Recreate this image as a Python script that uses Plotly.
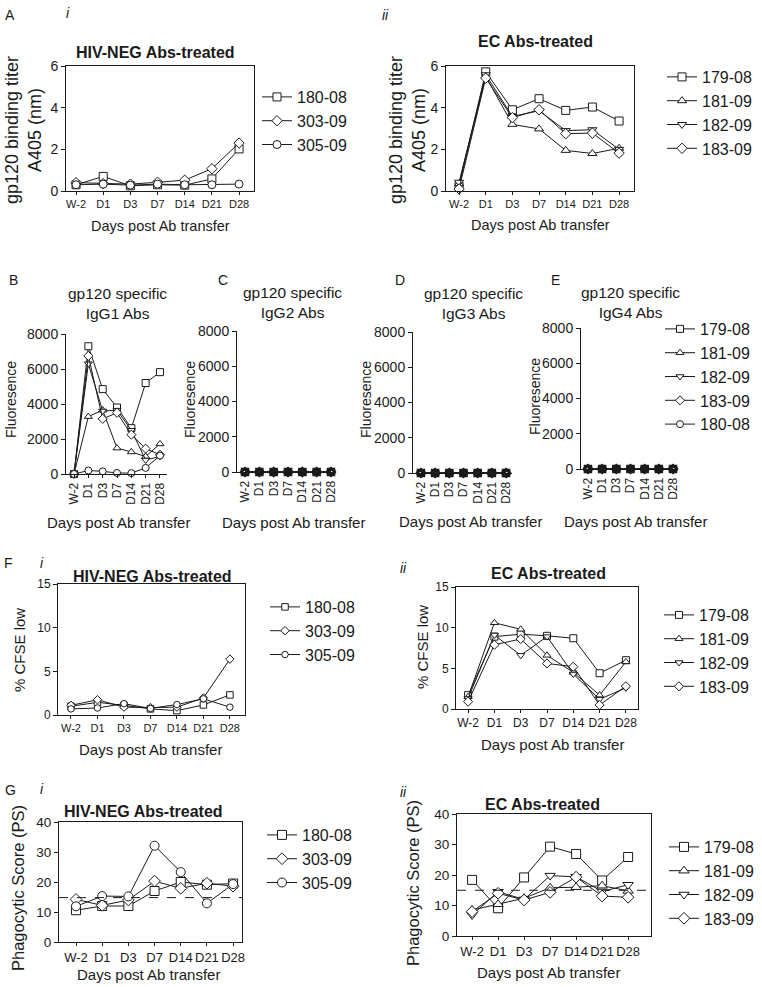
import plotly.graph_objects as go

W, H = 762, 987

# ---------------- data ----------------
days = ["W-2", "D1", "D3", "D7", "D14", "D21", "D28"]

neg_ids = ["180-08", "303-09", "305-09"]
ec_ids = ["179-08", "181-09", "182-09", "183-09"]
igg_ids = ["179-08", "181-09", "182-09", "183-09", "180-08"]

# A i  gp120 binding titer, HIV-NEG Abs-treated
A1_180_08 = [0.30, 0.70, 0.25, 0.30, 0.28, 0.58, 2.02]
A1_303_09 = [0.40, 0.35, 0.33, 0.42, 0.52, 1.07, 2.30]
A1_305_09 = [0.30, 0.33, 0.28, 0.33, 0.30, 0.30, 0.33]
# A ii  EC Abs-treated
A2_179_08 = [0.22, 5.72, 3.90, 4.43, 3.87, 4.03, 3.36]
A2_181_09 = [0.35, 5.50, 3.20, 2.98, 1.95, 1.80, 2.05]
A2_182_09 = [0.42, 5.58, 3.58, 3.85, 2.90, 2.94, 2.00]
A2_183_09 = [0.10, 5.42, 3.52, 3.90, 2.75, 2.78, 1.82]

# B  IgG1
B_179_08 = [0, 7300, 4850, 3800, 2620, 5200, 5820]
B_181_09 = [0, 3280, 3650, 1480, 1260, 1000, 1720]
B_182_09 = [0, 6300, 3600, 3650, 2500, 800, 1000]
B_183_09 = [0, 6750, 3150, 3500, 2250, 1450, 1100]
B_180_08 = [0, 200, 150, 60, 50, 350, 1050]
# C IgG2, D IgG3, E IgG4
C_vals = [0, 0, 0, 0, 0, 0, 0]
D_vals = [0, 0, 0, 0, 0, 0, 0]
E_vals = [0, 0, 0, 0, 0, 0, 0]

# F i  % CFSE low
F1_180_08 = [1.00, 1.45, 1.10, 0.70, 0.50, 1.15, 2.30]
F1_303_09 = [1.10, 1.75, 0.90, 0.85, 0.90, 1.95, 6.40]
F1_305_09 = [0.70, 0.80, 1.30, 0.75, 1.20, 1.85, 0.90]
# F ii
F2_179_08 = [1.70, 8.90, 9.20, 9.00, 8.70, 4.40, 6.00]
F2_181_09 = [1.50, 10.60, 9.80, 6.60, 4.50, 1.70, 5.80]
F2_182_09 = [1.30, 9.10, 6.60, 8.90, 4.30, 1.20, 2.60]
F2_183_09 = [0.90, 7.90, 8.60, 5.60, 5.20, 0.50, 2.80]

# G i  Phagocytic score
G1_180_08 = [10.6, 12.0, 12.0, 17.0, 20.0, 19.1, 19.5]
G1_303_09 = [14.2, 12.2, 14.0, 20.3, 17.9, 19.6, 18.6]
G1_305_09 = [11.9, 15.3, 15.2, 32.1, 23.3, 12.9, 19.3]
# G ii
G2_179_08 = [18.4, 9.1, 19.2, 29.3, 26.9, 18.2, 25.9]
G2_181_09 = [8.5, 10.4, 12.4, 15.8, 16.0, 16.5, 14.8]
G2_182_09 = [6.9, 14.5, 12.0, 19.8, 19.4, 14.6, 16.8]
G2_183_09 = [8.0, 14.0, 11.8, 14.3, 19.3, 13.1, 12.7]
ps_cutoff_neg = 14.8
ps_cutoff_ec = 15.0

# ---------------- helpers ----------------
FONT = "Liberation Sans, Arial, sans-serif"
INK = "#1a1a1a"
xi = list(range(len(days)))


def fx(p):
    return p / W


def fy(p):
    return 1 - p / H


sym = {"179-08": "square", "180-08": "square", "181-09": "triangle-up",
       "182-09": "triangle-down", "183-09": "diamond", "303-09": "diamond",
       "305-09": "circle"}
sym_igg = {"179-08": "square", "181-09": "triangle-up", "182-09": "triangle-down",
           "183-09": "diamond", "180-08": "circle"}

fig = go.Figure()
layout = dict(width=W, height=H, margin=dict(l=0, r=0, t=0, b=0, autoexpand=False),
              paper_bgcolor="white", plot_bgcolor="white",
              font=dict(family=FONT, color=INK), showlegend=True)
annotations = []
shapes = []


def add_axes(k, box, xr, yr, yt, mirror, rot, xtick_size, ytick_size):
    x0, x1, y0, y1 = box
    sfx = "" if k == 1 else str(k)
    layout["xaxis" + sfx] = dict(
        domain=[fx(x0), fx(x1)], range=list(xr), tickvals=xi, ticktext=days,
        ticks="outside", ticklen=3, tickwidth=1, tickcolor=INK,
        showline=True, linecolor=INK, linewidth=1, mirror=mirror,
        tickangle=-90 if rot else 0, tickfont=dict(size=xtick_size, family=FONT, color=INK),
        showgrid=False, zeroline=False, anchor="y" + sfx, fixedrange=True, automargin=False)
    layout["yaxis" + sfx] = dict(
        domain=[fy(y1), fy(y0)], range=list(yr), tickvals=yt,
        ticks="outside", ticklen=4, tickwidth=1, tickcolor=INK,
        showline=True, linecolor=INK, linewidth=1, mirror=mirror,
        tickfont=dict(size=ytick_size, family=FONT, color=INK),
        showgrid=False, zeroline=False, anchor="x" + sfx, fixedrange=True, automargin=False)
    return "x" + sfx, "y" + sfx


def add_series(xa, ya, names, values, symbols, msize, legend=None, fill="white", mlw=1):
    for nm, vals in zip(names, values):
        fig.add_trace(go.Scatter(
            x=xi, y=vals, xaxis=xa, yaxis=ya, name=nm, mode="lines+markers",
            line=dict(color=INK, width=1),
            marker=dict(symbol=symbols[nm], size=msize, color=fill,
                        line=dict(color=INK, width=mlw)),
            cliponaxis=False, showlegend=legend is not None,
            legend=legend if legend else "legend"))


def ann(text, x, y, size, angle=0, xanchor="center", yanchor="middle"):
    annotations.append(dict(text=text, x=fx(x), y=fy(y), xref="paper", yref="paper",
                            showarrow=False, font=dict(size=size, family=FONT, color=INK),
                            textangle=angle, xanchor=xanchor, yanchor=yanchor))


def legend_at(key, x, y, size=16):
    layout[key] = dict(x=fx(x), y=fy(y), xanchor="left", yanchor="top",
                       font=dict(size=size, family=FONT, color=INK),
                       bgcolor="rgba(0,0,0,0)", borderwidth=0, tracegroupgap=0)


# ---------------- A i ----------------
xa, ya = add_axes(1, (66, 254, 66, 191), (-0.37, 6.55), (0, 6), [0, 2, 4, 6], True, False, 11, 14)
add_series(xa, ya, neg_ids, [A1_180_08, A1_303_09, A1_305_09], sym, 8, "legend")
legend_at("legend", 257, 80)
ann("A", 10, 15, 14)
ann("<i>i</i>", 68, 13, 14)
ann("<b>HIV-NEG Abs-treated</b>", 155, 52, 16)
ann("gp120 binding titer<br>A405 (nm)", 23, 130, 18, angle=-90)
ann("Days post Ab transfer", 160, 226, 14.5)

# ---------------- A ii ----------------
xa, ya = add_axes(2, (446, 634, 66, 191), (-0.49, 6.56), (0, 6), [0, 2, 4, 6], True, False, 11, 14)
add_series(xa, ya, ec_ids, [A2_179_08, A2_181_09, A2_182_09, A2_183_09], sym, 8, "legend2")
legend_at("legend2", 662, 60)
ann("<i>ii</i>", 386, 15, 14)
ann("<b>EC Abs-treated</b>", 535, 42, 16)
ann("gp120 binding titer<br>A405 (nm)", 407, 130, 18, angle=-90)
ann("Days post Ab transfer", 540, 225, 14.5)

# ---------------- B - E ----------------
igg_y = [0, 2000, 4000, 6000, 8000]
xa, ya = add_axes(3, (66, 167, 334, 474), (-0.56, 6.49), (0, 8000), igg_y, False, True, 12, 14)
add_series(xa, ya, igg_ids, [B_179_08, B_181_09, B_182_09, B_183_09, B_180_08], sym_igg, 7, "legend3")
legend_at("legend3", 660, 312)
ann("B", 13, 280, 14)
ann("gp120 specific<br>IgG1 Abs", 117, 303, 15.5)
ann("Fluoresence", 11, 400, 14, angle=-90)
ann("Days post Ab transfer", 118, 522, 15)

xa, ya = add_axes(4, (237, 335, 331, 472), (-0.56, 6.28), (0, 8000), igg_y, False, True, 12, 14)
add_series(xa, ya, igg_ids, [C_vals] * 5, sym_igg, 7, fill="rgba(0,0,0,0)", mlw=1.5)
ann("C", 223, 280, 14)
ann("gp120 specific<br>IgG2 Abs", 292, 302, 15.5)
ann("Fluoresence", 190, 400, 14, angle=-90)
ann("Days post Ab transfer", 293, 522, 15)

xa, ya = add_axes(5, (413, 512, 332, 473), (-0.56, 6.42), (0, 8000), igg_y, False, True, 12, 14)
add_series(xa, ya, igg_ids, [D_vals] * 5, sym_igg, 7, fill="rgba(0,0,0,0)", mlw=1.5)
ann("D", 400, 280, 14)
ann("gp120 specific<br>IgG3 Abs", 473, 304, 15.5)
ann("Fluoresence", 366, 400, 14, angle=-90)
ann("Days post Ab transfer", 470, 521, 15)

xa, ya = add_axes(6, (581, 678, 328, 469), (-0.49, 6.35), (0, 8000), igg_y, False, True, 12, 14)
add_series(xa, ya, igg_ids, [E_vals] * 5, sym_igg, 7, fill="rgba(0,0,0,0)", mlw=1.5)
ann("E", 555, 280, 14)
ann("gp120 specific<br>IgG4 Abs", 630, 302, 15.5)
ann("Fluoresence", 535, 397, 14, angle=-90)
ann("Days post Ab transfer", 635, 521, 15)

# ---------------- F i ----------------
xa, ya = add_axes(7, (58, 245, 584, 715), (-0.49, 6.57), (0, 15), [0, 5, 10, 15], True, False, 11, 12)
add_series(xa, ya, neg_ids, [F1_180_08, F1_303_09, F1_305_09], sym, 6.5, "legend4")
legend_at("legend4", 265, 590)
ann("F", 8, 563, 14)
ann("<i>i</i>", 42, 563, 14)
ann("<b>HIV-NEG Abs-treated</b>", 152, 576, 16)
ann("% CFSE low", 19, 650, 15, angle=-90)
ann("Days post Ab transfer", 150, 749, 15)

# ---------------- F ii ----------------
xa, ya = add_axes(8, (456, 638, 587, 709), (-0.46, 6.46), (0, 15), [0, 5, 10, 15], True, False, 12, 12)
add_series(xa, ya, ec_ids, [F2_179_08, F2_181_09, F2_182_09, F2_183_09], sym, 7, "legend5")
legend_at("legend5", 659, 598)
ann("<i>ii</i>", 403, 568, 14)
ann("<b>EC Abs-treated</b>", 548, 573, 16)
ann("% CFSE low", 422, 647, 15, angle=-90)
ann("Days post Ab transfer", 552, 744, 15)

# ---------------- G i ----------------
xa, ya = add_axes(9, (59, 242, 822, 942), (-0.65, 6.34), (0, 40), [0, 10, 20, 30, 40], True, False, 13, 13.5)
add_series(xa, ya, neg_ids, [G1_180_08, G1_303_09, G1_305_09], sym, 9, "legend6")
legend_at("legend6", 262, 818)
shapes.append(dict(type="line", xref="x9 domain", yref="y9", x0=0, x1=1,
                   y0=ps_cutoff_neg, y1=ps_cutoff_neg, line=dict(color=INK, width=1, dash="dash")))
ann("G", 10, 790, 14)
ann("<i>i</i>", 42, 789, 14)
ann("<b>HIV-NEG Abs-treated</b>", 143, 811, 16)
ann("Phagocytic Score (PS)", 18, 888, 16.5, angle=-90)
ann("Days post Ab transfer", 148, 974, 15)

# ---------------- G ii ----------------
xa, ya = add_axes(10, (457, 651, 814, 936), (-0.58, 6.88), (0, 40), [0, 10, 20, 30, 40], True, False, 13, 13.5)
add_series(xa, ya, ec_ids, [G2_179_08, G2_181_09, G2_182_09, G2_183_09], sym, 9, "legend7")
legend_at("legend7", 664, 830)
shapes.append(dict(type="line", xref="x10 domain", yref="y10", x0=0, x1=1,
                   y0=ps_cutoff_ec, y1=ps_cutoff_ec, line=dict(color=INK, width=1, dash="dash")))
ann("<i>ii</i>", 403, 792, 14)
ann("<b>EC Abs-treated</b>", 542, 804, 16)
ann("Phagocytic Score (PS)", 413, 883, 16.5, angle=-90)
ann("Days post Ab transfer", 548, 972, 15)

layout["annotations"] = annotations
layout["shapes"] = shapes
fig.update_layout(**layout)
fig.write_html("out.html", config={"displayModeBar": False},
               post_script="document.body.style.margin='0';document.body.style.padding='0';"
                           "document.body.style.overflow='hidden';")
